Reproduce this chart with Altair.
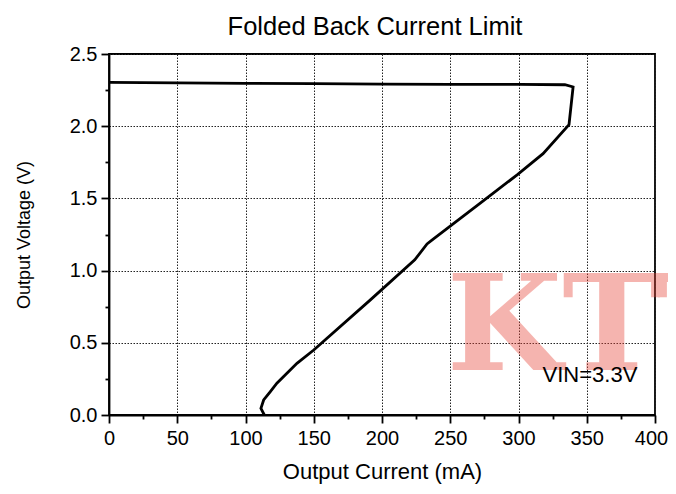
import altair as alt
import pandas as pd

# ---- data ----
current_ma = [0, 50, 100, 150, 200, 250, 300, 334, 340, 337, 318, 299, 272, 236.8, 233, 224,
              191.5, 150, 137.7, 123, 118.2, 113.3, 111.3, 113.8]
voltage_v = [2.303, 2.300, 2.297, 2.295, 2.292, 2.290, 2.289, 2.287, 2.272, 2.01, 1.81, 1.663,
             1.467, 1.213, 1.185, 1.074, 0.797, 0.45, 0.358, 0.22, 0.162, 0.104, 0.046, 0.0]

title_text = ["Folded Back Current Limit"]
x_title = "Output Current (mA)"
y_title = "Output Voltage (V)"
x_ticks = [i * 25 for i in range(17)]
y_ticks = [i * 0.25 for i in range(11)]

note_text = ["VIN=3.3V"]
note_x = [317.6]
note_y = [0.231]

wm_text = ["KTT"]
wm_x = [247.3]
wm_y = [0.312]

df = pd.DataFrame({"current": current_ma, "voltage": voltage_v, "idx": list(range(len(current_ma)))})
note_df = pd.DataFrame({"x": note_x, "y": note_y, "t": note_text})
wm_df = pd.DataFrame({"x": wm_x, "y": wm_y, "t": wm_text})
title_df = pd.DataFrame({"t": title_text})

FONT = "Liberation Sans"

xaxis = alt.Axis(
    values=x_ticks,
    labelExpr="datum.value % 50 === 0 ? datum.label : ''",
    tickSize={"condition": {"test": "datum.value % 50 === 0", "value": 8}, "value": 4},
    gridOpacity={"condition": {"test": "datum.value % 50 === 0", "value": 1}, "value": 0},
    labelOffset={"condition": {"test": "datum.value === 400", "value": -4}, "value": 0},
    grid=True, gridColor="#222", gridDash=[1.5, 1.5], gridWidth=1,
    domainColor="black", domainWidth=1.8, tickColor="black", tickWidth=1.8,
    labelFont=FONT, labelFontSize=20, labelColor="black", labelPadding=5,
    labelOverlap=False, labelFlush=False,
    title=x_title, titleFont=FONT, titleFontSize=22, titleFontWeight="normal",
    titleColor="black", titleBaseline="alphabetic", titleY=63,
)
yaxis = alt.Axis(
    values=y_ticks, format=".1f",
    labelExpr="round(datum.value * 4) % 2 === 0 ? datum.label : ''",
    tickSize={"condition": {"test": "round(datum.value * 4) % 2 === 0", "value": 8}, "value": 4},
    gridOpacity={"condition": {"test": "round(datum.value * 4) % 2 === 0", "value": 1}, "value": 0},
    grid=True, gridColor="#222", gridDash=[1.5, 1.5], gridWidth=1,
    domainColor="black", domainWidth=1.8, tickColor="black", tickWidth=1.8,
    labelFont=FONT, labelFontSize=20, labelColor="black", labelPadding=4,
    labelOverlap=False, labelFlush=False,
    title=y_title, titleFont=FONT, titleFontSize=18, titleFontWeight="normal",
    titleColor="black", titleBaseline="alphabetic", titleX=-80,
)

xs = alt.Scale(domain=[0, 400], nice=False)
ys = alt.Scale(domain=[0, 2.5], nice=False)

wm = alt.Chart(wm_df).mark_text(
    font="DejaVu Serif", fontWeight="bold", fontSize=133, align="left",
    baseline="alphabetic", color="#e8473a", opacity=0.4,
).encode(x=alt.X("x:Q", scale=xs, axis=xaxis), y=alt.Y("y:Q", scale=ys, axis=yaxis), text="t:N")

note = alt.Chart(note_df).mark_text(
    font=FONT, fontSize=22, align="left", baseline="alphabetic", color="black",
).encode(x=alt.X("x:Q", scale=xs, axis=xaxis), y=alt.Y("y:Q", scale=ys, axis=yaxis), text="t:N")

title = alt.Chart(title_df).mark_text(
    font=FONT, fontSize=25.5, align="center", baseline="alphabetic", color="black",
).encode(x=alt.value(266), y=alt.value(-19), text="t:N")

line = alt.Chart(df).mark_line(color="black", strokeWidth=2.8).encode(
    x=alt.X("current:Q", scale=xs, axis=xaxis),
    y=alt.Y("voltage:Q", scale=ys, axis=yaxis),
    order="idx:Q",
)

chart = alt.layer(wm, note, line, title).properties(
    width=546, height=361,
    autosize=alt.AutoSizeParams(type="none"),
    padding={"left": 101, "top": 46, "right": 13, "bottom": 71},
).configure_view(stroke="black", strokeWidth=1.8)

chart.save("out.html", embed_options={"renderer": "svg", "actions": False})
